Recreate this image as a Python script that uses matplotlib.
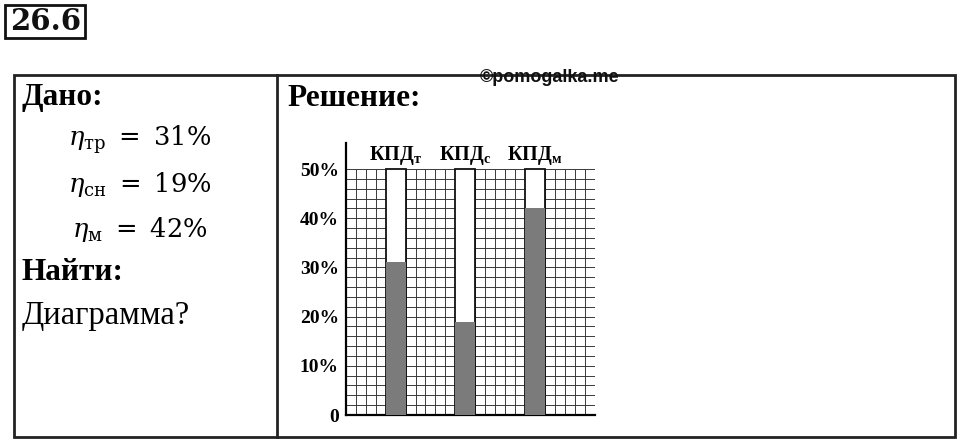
import matplotlib
matplotlib.use("Agg")
import matplotlib.pyplot as plt
from matplotlib.patches import Rectangle

# ---- data ----
categories = ["КПД$_{\\mathregular{т}}$", "КПД$_{\\mathregular{с}}$", "КПД$_{\\mathregular{м}}$"]
efficiency = [31, 19, 42]          # percent
full_scale = [50, 50, 50]
ytick_vals = [0, 10, 20, 30, 40, 50]
ytick_labels = ["0", "10%", "20%", "30%", "40%", "50%"]
given_lines = [r"$\eta_{\mathrm{тр}}\ =\ 31\%$", r"$\eta_{\mathrm{сн}}\ =\ 19\%$", r"$\eta_{\mathrm{м}}\ =\ 42\%$"]

plt.rcParams['mathtext.fontset'] = 'dejavuserif'
W, H = 960, 442
fig = plt.figure(figsize=(W / 100, H / 100), dpi=100)
fig.patch.set_facecolor("white")

# overlay axes in pixel coordinates
ov = fig.add_axes([0, 0, 1, 1])
ov.set_xlim(0, W)
ov.set_ylim(H, 0)
ov.axis("off")

serif = "Liberation Serif"
# problem number box
ov.add_patch(Rectangle((5, 5), 80, 33, fill=False, lw=2, ec="#111111"))
ov.text(46, 22, "26.6", fontsize=21, fontweight="bold", family="DejaVu Serif",
        ha="center", va="center", color="#111111")

# table
ov.add_patch(Rectangle((14, 74.5), 941, 362.5, fill=False, lw=2, ec="#222222"))
ov.plot([277, 277], [74.5, 437], color="#222222", lw=2)

ov.text(22, 98, "Дано:", fontsize=22.5, fontweight="bold", family=serif, va="center", ha="left")
for i, s in enumerate(given_lines):
    ov.text(140, 140 + 44.5 * i, s, fontsize=18.5, ha="center", va="center")
ov.text(22, 273, "Найти:", fontsize=22.5, fontweight="bold", family=serif, va="center", ha="left")
ov.text(22, 316, "Диаграмма?", fontsize=23.5, family=serif, va="center", ha="left")
ov.text(287, 98, "Решение:", fontsize=22.5, fontweight="bold", family=serif, va="center", ha="left")
ov.text(550, 77, "©pomogalka.me", fontsize=13, fontweight="bold", family="Liberation Sans",
        va="center", ha="center", color="#111111")

# chart axes
x0, x1 = 345.7, 595
y0, y50 = 415, 169
ppu = (y0 - y50) / 50.0
ytop = 143
ax = fig.add_axes([x0 / W, (H - y0) / H, (x1 - x0) / W, (y0 - ytop) / H])
ax.set_facecolor("none")
ax.set_xlim(0, 25)
ax.set_ylim(0, (y0 - ytop) / ppu)

for yy in range(0, 51, 2):
    ax.plot([0, 25], [yy, yy], color="#3a3a3a", lw=0.7, zorder=1)
for xx in range(0, 26):
    ax.plot([xx, xx], [0, 50], color="#3a3a3a", lw=0.7, zorder=1)

pos = [5 + 7 * i for i in range(len(categories))]
ax.bar(pos, full_scale, width=2, color="white", edgecolor="#111111", lw=1.3, zorder=3)
ax.bar(pos, efficiency, width=2, color="#7b7b7b", edgecolor="none", zorder=4)
for p, c in zip(pos, categories):
    ax.text(p, 50.5, c, ha="center", va="bottom", fontsize=14.5, fontweight="bold", family=serif)

for s in ["top", "right"]:
    ax.spines[s].set_visible(False)
ax.spines["left"].set_linewidth(1.6)
ax.spines["bottom"].set_linewidth(1.6)
ax.set_xticks([])
ax.set_yticks(ytick_vals)
ax.set_yticklabels(ytick_labels, fontsize=14, fontweight="bold", family=serif)
ax.tick_params(axis="y", length=0, pad=5)

fig.savefig("out.png", dpi=100)
